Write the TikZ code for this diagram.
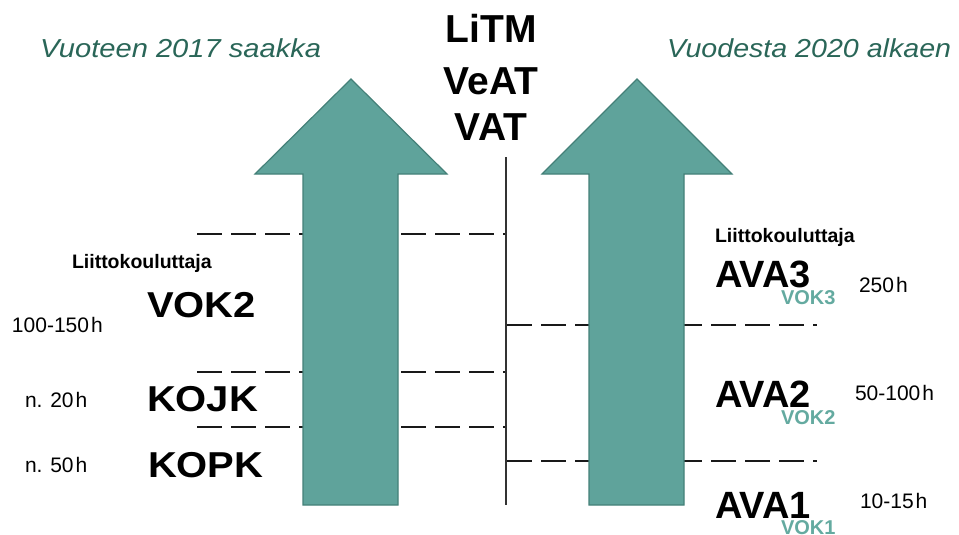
\documentclass[tikz,border=0pt]{standalone}
\usepackage{fontspec}
\usepackage{graphicx}
\setmainfont{Liberation Sans}
\definecolor{arrowfill}{RGB}{95,163,155}
\definecolor{arrowline}{RGB}{68,128,120}
\definecolor{vokteal}{RGB}{100,170,160}
\definecolor{headgreen}{RGB}{42,102,88}
\newcommand\setfsz[1]{\fontsize{#1}{#1}\selectfont}
\tikzset{
  bigarrow/.style={fill=arrowfill, draw=arrowline, line width=1.2pt, line join=miter},
  sepline/.style={line width=2.8pt, dash pattern=on 25pt off 9pt, black!90},
  midline/.style={line width=1.5pt, black!80},
  txt/.style={inner sep=0pt, outer sep=0pt, anchor=base west},
  period/.style={txt, text=headgreen, font=\itshape\setfsz{26}},
  trainer/.style={txt, font=\bfseries\setfsz{19.5}},
  lefttitle/.style={txt, font=\bfseries\setfsz{36}},
  righttitle/.style={txt, font=\bfseries\setfsz{38}},
  voksmall/.style={txt, text=vokteal, font=\bfseries\setfsz{20}},
  hours/.style={txt, font=\setfsz{21}},
  centertitle/.style={inner sep=0pt, anchor=base, font=\bfseries\setfsz{39}},
}
\begin{document}
\begin{tikzpicture}[x=1pt,y=-1pt]
\useasboundingbox[fill=white] (0,0) rectangle (959,535);
% separators (behind arrows)
\coordinate (l1a) at (197,234); \coordinate (l1b) at (506,234);
\coordinate (l2a) at (197,372); \coordinate (l2b) at (506,372);
\coordinate (l3a) at (197,427); \coordinate (l3b) at (506,427);
\coordinate (r1a) at (507,325); \coordinate (r1b) at (817,325);
\coordinate (r2a) at (507,461); \coordinate (r2b) at (817,461);
\draw[sepline] (l1a) -- (l1b);
\draw[sepline] (l2a) -- (l2b);
\draw[sepline] (l3a) -- (l3b);
\draw[sepline] (r1a) -- (r1b);
\draw[sepline] (r2a) -- (r2b);
% arrows
\draw[bigarrow] (303,505) -- (303,174) -- (255,174) -- (351,79) -- (447,174) -- (398,174) -- (398,505) -- cycle;
\draw[bigarrow] (589,505) -- (589,174) -- (542,174) -- (637,79) -- (732,174) -- (684,174) -- (684,505) -- cycle;
% middle line
\coordinate (vtop) at (506,157); \coordinate (vbot) at (506,505);
\draw[midline] (vtop) -- (vbot);
% headings
\node[period] (pleft) at (40,58) {\scalebox{1.12}[1]{Vuoteen 2017 saakka}};
\node[period] (pright) at (667,58) {\scalebox{1.1}[1]{Vuodesta 2020 alkaen}};
\node[centertitle] (litm) at (491,43) {LiTM};
\node[centertitle] (veat) at (491,95) {VeAT};
\node[centertitle] (vat) at (491,140) {VAT};
% left side
\node[trainer] (trl) at (72,268) {Liittokouluttaja};
\node[lefttitle] (vok2l) at (147,317.5) {\scalebox{1.11}[1]{VOK2}};
\node[lefttitle] (kojk) at (147,411) {\scalebox{1.11}[1]{KOJK}};
\node[lefttitle] (kopk) at (148,477) {\scalebox{1.11}[1]{KOPK}};
\node[hours] (h1) at (12,332) {100-150\kern2pt h};
\node[hours] (h2) at (25,407) {n. 20\kern2pt h};
\node[hours] (h3) at (25,472) {n. 50\kern2pt h};
% right side
\node[trainer] (trr) at (715,242) {Liittokouluttaja};
\node[righttitle] (ava3) at (715,287) {AVA3};
\node[righttitle] (ava2) at (715,407) {AVA2};
\node[righttitle] (ava1) at (715,518) {AVA1};
\node[voksmall] (vok3) at (781,304) {VOK3};
\node[voksmall] (vok2r) at (781,424) {VOK2};
\node[voksmall] (vok1) at (781,534) {VOK1};
\node[hours] (h4) at (859,292) {250\kern2pt h};
\node[hours] (h5) at (855,400) {50-100\kern2pt h};
\node[hours] (h6) at (860,508) {10-15\kern2pt h};
\end{tikzpicture}
\end{document}
